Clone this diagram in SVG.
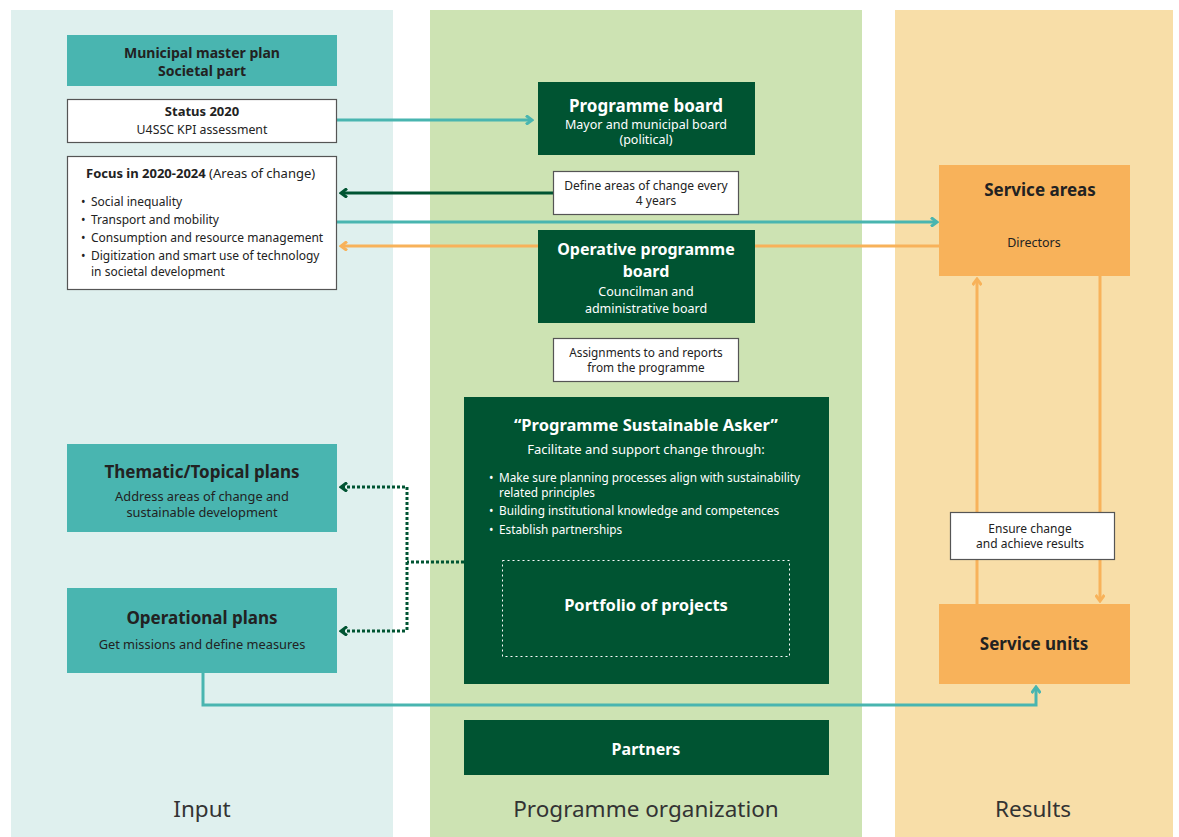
<svg xmlns="http://www.w3.org/2000/svg" width="1179" height="837" viewBox="0 0 1179 837">
<style>
text{font-family:"Noto Sans","Liberation Sans",sans-serif;fill:#222}
.b{font-weight:bold}
.w{fill:#fff}
.c{text-anchor:middle}
.teal{fill:#49b5b0}
.dg{fill:#005432}
.or{fill:#f8b25a}
.lbl{fill:#fff;stroke:#555;stroke-width:1.2}
.col{font-size:22.5px;fill:#333}
.ln{fill:none;stroke-width:3}
</style>
<defs>
<marker id="aT" markerWidth="10" markerHeight="10" refX="8" refY="5" orient="auto" markerUnits="userSpaceOnUse"><polyline points="2,0.5 8,5 2,9.5" fill="none" stroke="#49b5b0" stroke-width="3"/></marker>
<marker id="aG" markerWidth="10" markerHeight="10" refX="8" refY="5" orient="auto" markerUnits="userSpaceOnUse"><polyline points="2,0.5 8,5 2,9.5" fill="none" stroke="#005432" stroke-width="3"/></marker>
<marker id="aO" markerWidth="10" markerHeight="10" refX="8" refY="5" orient="auto" markerUnits="userSpaceOnUse"><polyline points="2,0.5 8,5 2,9.5" fill="none" stroke="#f8b25a" stroke-width="3"/></marker>
</defs>
<rect width="1179" height="837" fill="#fff"/>
<g id="columns">
<rect x="11" y="10" width="382" height="827" fill="#dff0ee"/>
<rect x="430" y="10" width="432" height="827" fill="#cde3b3"/>
<rect x="895" y="10" width="278" height="827" fill="#f8dea8"/>
<text class="col c" x="202" y="817">Input</text>
<text class="col c" x="646" y="817">Programme organization</text>
<text class="col c" x="1033" y="817">Results</text>
</g>
<g id="connectors">
<line class="ln" x1="337" y1="120" x2="532" y2="120" stroke="#49b5b0" marker-end="url(#aT)"/>
<line class="ln" x1="553" y1="193" x2="341" y2="193" stroke="#005432" marker-end="url(#aG)"/>
<line class="ln" x1="337" y1="222" x2="937" y2="222" stroke="#49b5b0" marker-end="url(#aT)"/>
<line class="ln" x1="939" y1="246" x2="341" y2="246" stroke="#f8b25a" marker-end="url(#aO)"/>
<polyline class="ln" points="464,562 407,562" stroke="#005432" stroke-dasharray="3,2"/>
<polyline class="ln" points="407,487 407,631" stroke="#005432" stroke-dasharray="3,2"/>
<line class="ln" x1="405" y1="487" x2="341" y2="487" stroke="#005432" stroke-dasharray="3,2" marker-end="url(#aG)"/>
<line class="ln" x1="405" y1="631" x2="341" y2="631" stroke="#005432" stroke-dasharray="3,2" marker-end="url(#aG)"/>
<line class="ln" x1="977" y1="604" x2="977" y2="279" stroke="#f8b25a" marker-end="url(#aO)"/>
<line class="ln" x1="1100" y1="276" x2="1100" y2="601" stroke="#f8b25a" marker-end="url(#aO)"/>
<polyline class="ln" points="203,673 203,705 1036,705 1036,687" stroke="#49b5b0" marker-end="url(#aT)"/>
</g>
<g id="master-plan">
<rect class="teal" x="67" y="35" width="270" height="51"/>
<text class="b c" x="202" y="58" font-size="14">Municipal master plan</text>
<text class="b c" x="202" y="76" font-size="14">Societal part</text>
</g>
<g id="status">
<rect class="lbl" x="67.5" y="99.5" width="269" height="43"/>
<text class="b c" x="202" y="116" font-size="13">Status 2020</text>
<text class="c" x="202" y="134" font-size="12.3">U4SSC KPI assessment</text>
</g>
<g id="focus">
<rect class="lbl" x="67.5" y="156.5" width="269" height="133"/>
<text x="86" y="178" font-size="13"><tspan class="b">Focus in 2020-2024</tspan> (Areas of change)</text>
<text font-size="12">
<tspan x="81" y="206">•</tspan><tspan x="91" y="206">Social inequality</tspan>
<tspan x="81" y="224">•</tspan><tspan x="91" y="224">Transport and mobility</tspan>
<tspan x="81" y="242">•</tspan><tspan x="91" y="242">Consumption and resource management</tspan>
<tspan x="81" y="260">•</tspan><tspan x="91" y="260">Digitization and smart use of technology</tspan>
<tspan x="91" y="276">in societal development</tspan>
</text>
</g>
<g id="programme-board">
<rect class="dg" x="538" y="82" width="217" height="73"/>
<text class="b c w" x="646" y="112" font-size="17">Programme board</text>
<text class="c w" x="646" y="129" font-size="12.5">Mayor and municipal board</text>
<text class="c w" x="646" y="144" font-size="12.5">(political)</text>
</g>
<g id="define-label">
<rect class="lbl" x="553.5" y="171.5" width="185" height="43"/>
<text class="c" x="646" y="190" font-size="12">Define areas of change every</text>
<text class="c" x="656" y="205" font-size="12">4 years</text>
</g>
<g id="operative-board">
<rect class="dg" x="538" y="230" width="217" height="93"/>
<text class="b c w" x="646" y="255" font-size="16">Operative programme</text>
<text class="b c w" x="646" y="277" font-size="16">board</text>
<text class="c w" x="646" y="296" font-size="12.5">Councilman and</text>
<text class="c w" x="646" y="313" font-size="12.5">administrative board</text>
</g>
<g id="assign-label">
<rect class="lbl" x="553.5" y="338.5" width="185" height="43"/>
<text class="c" x="646" y="357" font-size="11.8">Assignments to and reports</text>
<text class="c" x="646" y="372" font-size="11.8">from the programme</text>
</g>
<g id="asker">
<rect class="dg" x="464" y="397" width="365" height="287"/>
<text class="b c w" x="646" y="431" font-size="16.5">“Programme Sustainable Asker”</text>
<text class="c w" x="646" y="454" font-size="13">Facilitate and support change through:</text>
<text class="w" font-size="11.8">
<tspan x="489" y="482">•</tspan><tspan x="499" y="482">Make sure planning processes align with sustainability</tspan>
<tspan x="499" y="497">related principles</tspan>
<tspan x="489" y="515">•</tspan><tspan x="499" y="515">Building institutional knowledge and competences</tspan>
<tspan x="489" y="534">•</tspan><tspan x="499" y="534">Establish partnerships</tspan>
</text>
</g>
<g id="portfolio">
<rect x="502.5" y="560.5" width="287" height="96" fill="none" stroke="#fff" stroke-width="1" stroke-dasharray="2,3"/>
<text class="b c w" x="646" y="611" font-size="16.5">Portfolio of projects</text>
</g>
<g id="partners">
<rect class="dg" x="464" y="720" width="365" height="55"/>
<text class="b c w" x="646" y="755" font-size="16">Partners</text>
</g>
<g id="thematic">
<rect class="teal" x="67" y="444" width="270" height="88"/>
<text class="b c" x="202" y="478" font-size="17">Thematic/Topical plans</text>
<text class="c" x="202" y="501" font-size="12.8">Address areas  of change and</text>
<text class="c" x="202" y="517" font-size="12.8">sustainable development</text>
</g>
<g id="operational">
<rect class="teal" x="67" y="588" width="270" height="85"/>
<text class="b c" x="202" y="624" font-size="17">Operational plans</text>
<text class="c" x="202" y="649" font-size="12.8">Get missions and define measures</text>
</g>
<g id="service-areas">
<rect class="or" x="939" y="165" width="191" height="111"/>
<text class="b c" x="1040" y="196" font-size="17">Service areas</text>
<text class="c" x="1034" y="247" font-size="12.5">Directors</text>
</g>
<g id="ensure-label">
<rect class="lbl" x="950.5" y="512.5" width="164" height="47"/>
<text class="c" x="1030" y="533" font-size="12">Ensure change</text>
<text class="c" x="1030" y="548" font-size="12">and achieve results</text>
</g>
<g id="service-units">
<rect class="or" x="939" y="604" width="191" height="80"/>
<text class="b c" x="1034" y="650" font-size="17">Service units</text>
</g>
</svg>
